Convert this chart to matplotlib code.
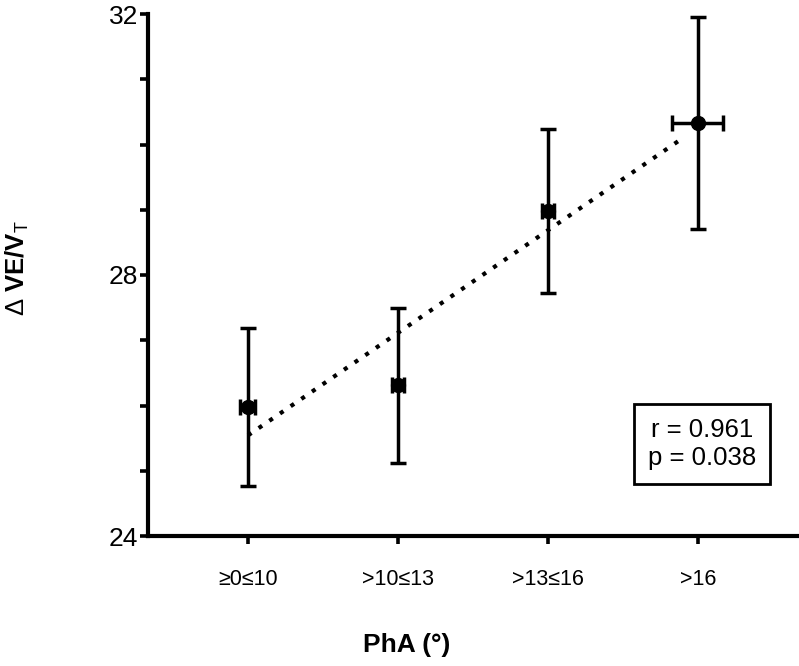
import numpy as np
import matplotlib
matplotlib.use("Agg")
import matplotlib.pyplot as plt

plt.rcParams.update({"font.family": ["Liberation Sans", "DejaVu Sans"],
                     "mathtext.fontset": "custom", "mathtext.rm": "Liberation Sans",
                     "mathtext.bf": "Liberation Sans:bold"})

# data
groups = ["≥0≤10", ">10≤13", ">13≤16", ">16"]
vevt_mean = [25.98, 26.31, 28.98, 30.33]
vevt_err = [1.21, 1.19, 1.26, 1.63]
pha_err = [0.05, 0.04, 0.04, 0.17]
stats_txt = "r = 0.961\np = 0.038"

x = np.arange(1, len(groups) + 1)

fig = plt.figure(figsize=(7.99, 6.66), dpi=100)
ax = fig.add_axes([148/799, 1 - 536/666, 651/799, 522/666])

# regression line through the means
slope, icpt = np.polyfit(x, vevt_mean, 1)
xf = np.array([1.0, 3.9])
ax.plot(xf, icpt + slope*xf, color="black", lw=3.0, ls=(0, (1, 2.1)), zorder=2)

ax.errorbar(x, vevt_mean, yerr=vevt_err, xerr=pha_err, fmt="o", color="black",
            ms=10, elinewidth=2.5, capsize=5.8, capthick=2.5, zorder=3)

ax.set_xlim(1 - 100/150, 4 + 101/150)
ax.set_ylim(24, 32)
ax.set_yticks([24, 28, 32])
ax.set_yticks([25, 26, 27, 29, 30, 31], minor=True)
ax.set_xticks(x)
ax.set_xticklabels(groups)
for s in ["top", "right"]:
    ax.spines[s].set_visible(False)
for s in ["left", "bottom"]:
    ax.spines[s].set_linewidth(3.0)
ax.tick_params(axis="both", which="both", direction="out", length=6, width=2.6,
               colors="black")
ax.tick_params(axis="x", pad=18, labelsize=15.5)
ax.tick_params(axis="y", pad=1, labelsize=19)

ax.text(0.851, 0.176, stats_txt, transform=ax.transAxes, ha="center", va="center",
        fontsize=18.5, linespacing=1.2,
        bbox=dict(boxstyle="square,pad=0.55", fc="white", ec="black", lw=2.0))

fig.text(17/799, 1 - 268/666, r"$\Delta$ VE/V$_{\mathrm{T}}$", rotation=90,
         ha="center", va="center", fontsize=18.5, fontweight="bold")
fig.text(407/799, 1 - 645/666, "PhA (°)", ha="center", va="center",
         fontsize=19, fontweight="bold")

fig.savefig("out.png", dpi=100)
